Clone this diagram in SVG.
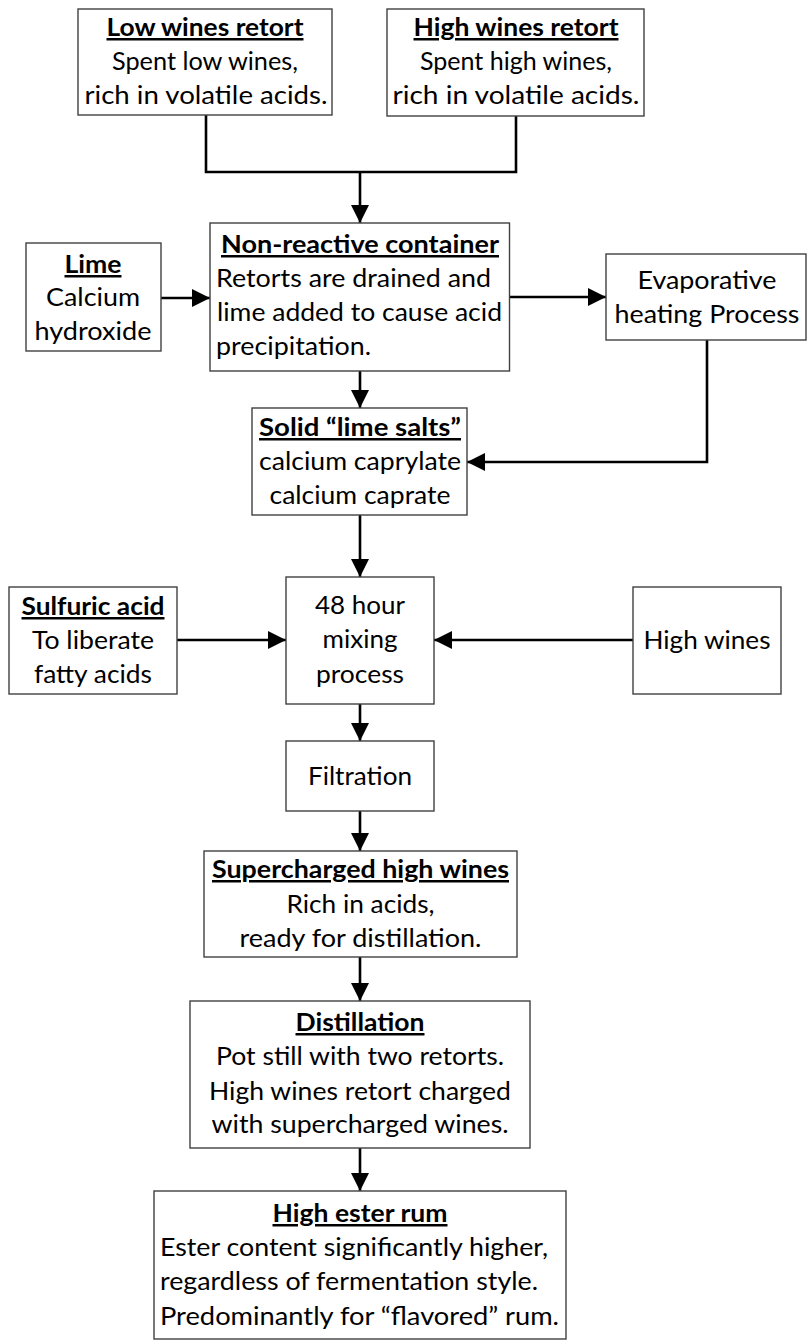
<svg xmlns="http://www.w3.org/2000/svg" width="807" height="1344" viewBox="0 0 807 1344">
<style>
.box{fill:#fff;stroke:#404040;stroke-width:1.4}
text{font-family:Lato,"Open Sans","Liberation Sans",sans-serif;font-size:25px;fill:#000}
.c{text-anchor:middle}
.t{font-weight:bold;text-decoration:underline}
.ln{fill:none;stroke:#000;stroke-width:2.6}
.ar{marker-end:url(#ah)}
</style>
<defs>
<marker id="ah" markerUnits="userSpaceOnUse" markerWidth="19" markerHeight="19" refX="18" refY="9" orient="auto">
<path d="M0,0 L18,9 L0,18 z" fill="#000"/>
</marker>
</defs>
<g id="connectors">
<path class="ln" d="M206,115 V172 H516 V116"/>
<path class="ln ar" d="M360,172 V223"/>
<path class="ln ar" d="M161,298 H210"/>
<path class="ln ar" d="M509.5,297 H606"/>
<path class="ln ar" d="M360,371 V408"/>
<path class="ln ar" d="M707,340 V462 H467"/>
<path class="ln ar" d="M360,515 V577"/>
<path class="ln ar" d="M177,640 H286"/>
<path class="ln ar" d="M633,640 H434"/>
<path class="ln ar" d="M360,704 V741"/>
<path class="ln ar" d="M360,811 V851"/>
<path class="ln ar" d="M360,957 V1001"/>
<path class="ln ar" d="M360,1148 V1191"/>
</g>
<g id="low-wines">
<rect class="box" x="78" y="9" width="254" height="106"/>
<text class="c t" x="205" y="36" textLength="197" lengthAdjust="spacingAndGlyphs">Low wines retort</text>
<text class="c" x="205" y="70" textLength="186" lengthAdjust="spacingAndGlyphs">Spent low wines,</text>
<text class="c" x="206" y="104" textLength="243" lengthAdjust="spacingAndGlyphs">rich in volatile acids.</text>
</g>
<g id="high-wines-retort">
<rect class="box" x="387" y="9" width="257" height="107"/>
<text class="c t" x="516" y="36" textLength="205" lengthAdjust="spacingAndGlyphs">High wines retort</text>
<text class="c" x="516" y="70" textLength="192" lengthAdjust="spacingAndGlyphs">Spent high wines,</text>
<text class="c" x="516" y="104" textLength="247" lengthAdjust="spacingAndGlyphs">rich in volatile acids.</text>
</g>
<g id="lime">
<rect class="box" x="26" y="243" width="135" height="108"/>
<text class="c t" x="93" y="273" textLength="57" lengthAdjust="spacingAndGlyphs">Lime</text>
<text class="c" x="93" y="306" textLength="94" lengthAdjust="spacingAndGlyphs">Calcium</text>
<text class="c" x="93" y="340" textLength="117" lengthAdjust="spacingAndGlyphs">hydroxide</text>
</g>
<g id="container">
<rect class="box" x="210" y="223" width="299.5" height="148"/>
<text class="c t" x="360" y="253" textLength="278" lengthAdjust="spacingAndGlyphs">Non-reactive container</text>
<text x="216" y="287" textLength="275" lengthAdjust="spacingAndGlyphs">Retorts are drained and</text>
<text x="217" y="321" textLength="285" lengthAdjust="spacingAndGlyphs">lime added to cause acid</text>
<text x="216" y="355" textLength="155" lengthAdjust="spacingAndGlyphs">precipitation.</text>
</g>
<g id="evaporative">
<rect class="box" x="606" y="254" width="200" height="86"/>
<text class="c" x="707" y="289" textLength="139" lengthAdjust="spacingAndGlyphs">Evaporative</text>
<text class="c" x="707" y="323" textLength="185" lengthAdjust="spacingAndGlyphs">heating Process</text>
</g>
<g id="lime-salts">
<rect class="box" x="252" y="408" width="215" height="107"/>
<text class="c t" x="360" y="436" textLength="202" lengthAdjust="spacingAndGlyphs">Solid “lime salts”</text>
<text class="c" x="360" y="470" textLength="202" lengthAdjust="spacingAndGlyphs">calcium caprylate</text>
<text class="c" x="360" y="504" textLength="181" lengthAdjust="spacingAndGlyphs">calcium caprate</text>
</g>
<g id="sulfuric">
<rect class="box" x="9" y="587" width="168" height="107"/>
<text class="c t" x="93" y="615" textLength="143" lengthAdjust="spacingAndGlyphs">Sulfuric acid</text>
<text class="c" x="93" y="649" textLength="122" lengthAdjust="spacingAndGlyphs">To liberate</text>
<text class="c" x="93" y="683" textLength="118" lengthAdjust="spacingAndGlyphs">fatty acids</text>
</g>
<g id="mixing">
<rect class="box" x="286" y="577" width="148" height="127"/>
<text class="c" x="360" y="614" textLength="90" lengthAdjust="spacingAndGlyphs">48 hour</text>
<text class="c" x="360" y="648" textLength="75" lengthAdjust="spacingAndGlyphs">mixing</text>
<text class="c" x="360" y="683" textLength="88" lengthAdjust="spacingAndGlyphs">process</text>
</g>
<g id="high-wines">
<rect class="box" x="633" y="587" width="148" height="107"/>
<text class="c" x="707" y="649" textLength="127" lengthAdjust="spacingAndGlyphs">High wines</text>
</g>
<g id="filtration">
<rect class="box" x="286" y="741" width="148" height="70"/>
<text class="c" x="360" y="785" textLength="104" lengthAdjust="spacingAndGlyphs">Filtration</text>
</g>
<g id="supercharged">
<rect class="box" x="204" y="851" width="313" height="106"/>
<text class="c t" x="360.5" y="878" textLength="297" lengthAdjust="spacingAndGlyphs">Supercharged high wines</text>
<text class="c" x="360.5" y="913" textLength="148" lengthAdjust="spacingAndGlyphs">Rich in acids,</text>
<text class="c" x="360.5" y="947" textLength="242" lengthAdjust="spacingAndGlyphs">ready for distillation.</text>
</g>
<g id="distillation">
<rect class="box" x="190" y="1001" width="340" height="147"/>
<text class="c t" x="360" y="1031" textLength="129" lengthAdjust="spacingAndGlyphs">Distillation</text>
<text class="c" x="360" y="1065" textLength="288" lengthAdjust="spacingAndGlyphs">Pot still with two retorts.</text>
<text class="c" x="360" y="1100" textLength="302" lengthAdjust="spacingAndGlyphs">High wines retort charged</text>
<text class="c" x="360" y="1133" textLength="297" lengthAdjust="spacingAndGlyphs">with supercharged wines.</text>
</g>
<g id="high-ester">
<rect class="box" x="154" y="1191" width="412" height="148"/>
<text class="c t" x="360" y="1222" textLength="175" lengthAdjust="spacingAndGlyphs">High ester rum</text>
<text x="160" y="1256" textLength="388" lengthAdjust="spacingAndGlyphs">Ester content significantly higher,</text>
<text x="160" y="1290" textLength="378" lengthAdjust="spacingAndGlyphs">regardless of fermentation style.</text>
<text x="160" y="1325" textLength="399" lengthAdjust="spacingAndGlyphs">Predominantly for “flavored” rum.</text>
</g>
</svg>
